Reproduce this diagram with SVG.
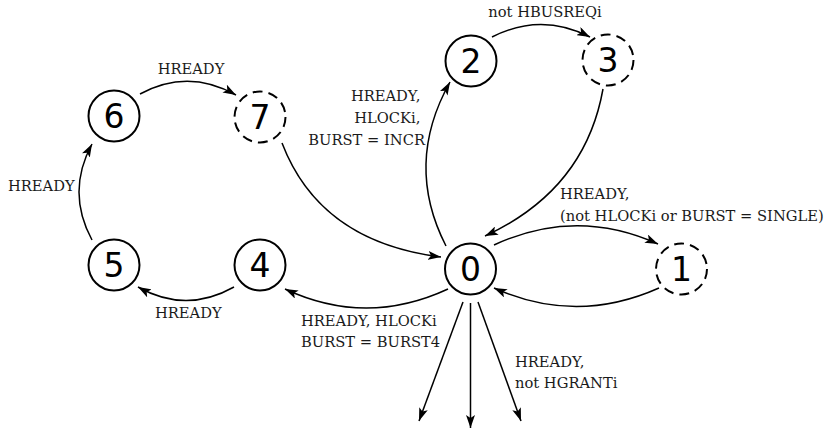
<svg xmlns="http://www.w3.org/2000/svg" width="824" height="432" viewBox="0 0 824 432">
  <style>
    .state { fill: #ffffff; stroke: #000000; stroke-width: 2; }
    .pending { stroke-dasharray: 10 6; }
    .num { font-family: "DejaVu Sans", sans-serif; font-size: 33px; fill: #000000; text-anchor: middle; }
    .lbl { font-family: "DejaVu Serif", serif; font-size: 14.7px; fill: #1a1a1a; }
    .edge { fill: none; stroke: #000000; stroke-width: 1.5; marker-end: url(#arrow); }
  </style>
  <defs>
    <marker id="arrow" viewBox="0 0 13 9" refX="13" refY="4.5" markerWidth="13" markerHeight="9" markerUnits="userSpaceOnUse" orient="auto">
      <path d="M0,0 L13,4.5 L0,9 L3,4.5 Z" fill="#000000"/>
    </marker>
  </defs>

  <g id="connectors">
    <!-- 6 -> 7 -->
    <path class="edge" d="M140,94 Q188,68 236,95"/>
    <!-- 2 -> 3 -->
    <path class="edge" d="M492,37 Q541,12 590,37"/>
    <!-- 3 -> 0 -->
    <path class="edge" d="M603,89 Q585,190 485,236"/>
    <!-- 0 -> 2 -->
    <path class="edge" d="M446,246 Q404,164 450,82"/>
    <!-- 7 -> 0 -->
    <path class="edge" d="M282,143 Q320,242 441,257"/>
    <!-- 0 -> 1 -->
    <path class="edge" d="M494,245 Q576,207 658,244"/>
    <!-- 1 -> 0 -->
    <path class="edge" d="M659,288 Q576,325 494,288"/>
    <!-- 5 -> 6 -->
    <path class="edge" d="M92,240 Q66,192 92,144"/>
    <!-- 4 -> 5 -->
    <path class="edge" d="M234,287 Q186,314 138,287"/>
    <!-- 0 -> 4 -->
    <path class="edge" d="M448,289 Q366,327 285,289"/>
    <!-- 0 -> exits -->
    <path class="edge" d="M463,302 L419,421"/>
    <path class="edge" d="M470.5,303 L470.5,428"/>
    <path class="edge" d="M478,302 L521,421"/>
  </g>

  <g id="labels">
    <text class="lbl" x="191" y="74" text-anchor="middle">HREADY</text>
    <text class="lbl" x="545" y="17" text-anchor="middle">not HBUSREQi</text>
    <text class="lbl" text-anchor="end">
      <tspan x="425" y="101">HREADY,</tspan>
      <tspan x="425" y="123">HLOCKi,</tspan>
      <tspan x="425" y="145">BURST = INCR</tspan>
    </text>
    <text class="lbl">
      <tspan x="560" y="199">HREADY,</tspan>
      <tspan x="560" y="221">(not HLOCKi or BURST = SINGLE)</tspan>
    </text>
    <text class="lbl" x="8" y="191">HREADY</text>
    <text class="lbl" x="155" y="318">HREADY</text>
    <text class="lbl">
      <tspan x="301" y="326">HREADY, HLOCKi</tspan>
      <tspan x="301" y="347">BURST = BURST4</tspan>
    </text>
    <text class="lbl">
      <tspan x="515" y="367">HREADY,</tspan>
      <tspan x="515" y="388">not HGRANTi</tspan>
    </text>
  </g>

  <g id="node-0">
    <circle class="state" cx="470.5" cy="269" r="25.5"/>
    <text class="num" x="470.5" y="281">0</text>
  </g>
  <g id="node-1">
    <circle class="state pending" cx="681.5" cy="269" r="25.5"/>
    <text class="num" x="681.5" y="281">1</text>
  </g>
  <g id="node-2">
    <circle class="state" cx="471" cy="61" r="25.5"/>
    <text class="num" x="471" y="73">2</text>
  </g>
  <g id="node-3">
    <circle class="state pending" cx="608" cy="60" r="25.5"/>
    <text class="num" x="608" y="72">3</text>
  </g>
  <g id="node-4">
    <circle class="state" cx="260" cy="265" r="25.5"/>
    <text class="num" x="260" y="277">4</text>
  </g>
  <g id="node-5">
    <circle class="state" cx="114" cy="265" r="25.5"/>
    <text class="num" x="114" y="277">5</text>
  </g>
  <g id="node-6">
    <circle class="state" cx="114" cy="116" r="25.5"/>
    <text class="num" x="114" y="128">6</text>
  </g>
  <g id="node-7">
    <circle class="state pending" cx="260" cy="117" r="25.5"/>
    <text class="num" x="260" y="129">7</text>
  </g>
</svg>
